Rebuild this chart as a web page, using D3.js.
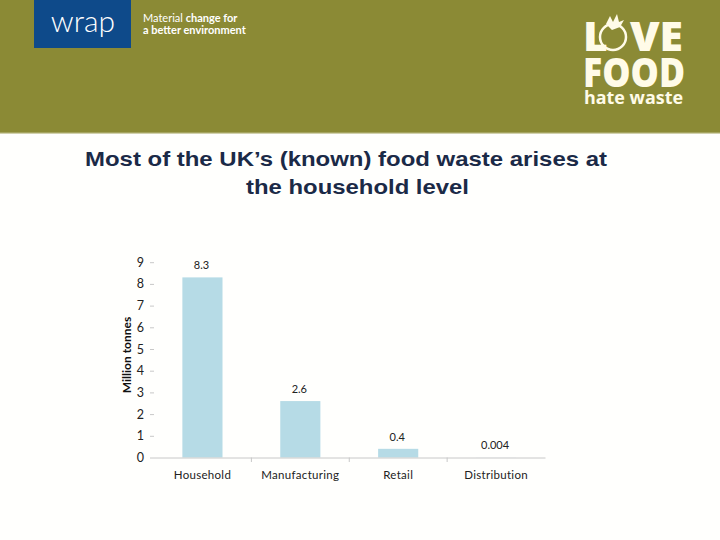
<!DOCTYPE html>
<html><head><meta charset="utf-8">
<script src="https://cdn.jsdelivr.net/npm/d3@7"></script>
<style>body{margin:0;background:#fff}svg{display:block}</style>
</head><body>
<script>
const categories = ["Household","Manufacturing","Retail","Distribution"];
const values = [8.3, 2.6, 0.4, 0.004];
const valueLabels = ["8.3","2.6","0.4","0.004"];
const yTicks = [0,1,2,3,4,5,6,7,8,9];
const titleLines = ["Most of the UK\u2019s (known) food waste arises at","the household level"];

const W=720,H=540;
const svg=d3.select("body").append("svg").attr("width",W).attr("height",H);
svg.append("rect").attr("width",W).attr("height",H).attr("fill","#fffffd");

// header
svg.append("rect").attr("x",0).attr("y",0).attr("width",W).attr("height",133).attr("fill","#8b8a35");
svg.append("rect").attr("x",0).attr("y",132).attr("width",W).attr("height",1.5).attr("fill","#a4a35e");
svg.append("rect").attr("x",34).attr("y",0).attr("width",97).attr("height",48).attr("fill","#0e4a8a");
svg.append("text").attr("x",83).attr("y",32).attr("text-anchor","middle").attr("fill","#fff")
  .style("font-family","Lato, sans-serif").style("font-weight","300").style("font-size","30px").text("wrap");
const tg=svg.append("g").style("font-family","Lato, sans-serif").style("font-size","11px").attr("fill","#fff");
tg.append("text").attr("x",143).attr("y",22).html('<tspan>Material </tspan><tspan font-weight="bold">change for</tspan>');
tg.append("text").attr("x",143).attr("y",34).attr("font-weight","bold").text("a better environment");
const lg=svg.append("g").attr("fill","#fffbe8").style("font-family","'Open Sans', sans-serif").style("font-weight","800");
lg.append("text").attr("transform","translate(583,51) scale(1,1.4)").style("font-size","29px").attr("textLength",100).attr("lengthAdjust","spacingAndGlyphs").text("L\u00a0\u00a0VE");
lg.append("circle").attr("cx",613).attr("cy",37).attr("r",13).attr("fill","none").attr("stroke","#fffbe8").attr("stroke-width",2.5);
lg.append("path").attr("d","M606,24 L610,16 L613,22 L617,14 L619,22 L624,20 L620,27 L612,30 Z");
lg.append("text").attr("transform","translate(583,87) scale(1,1.4)").style("font-size","29px").attr("textLength",102).attr("lengthAdjust","spacingAndGlyphs").text("FOOD");
lg.append("text").attr("x",584).attr("y",104).style("font-size","18px").style("font-weight","700").attr("textLength",99).attr("lengthAdjust","spacingAndGlyphs").text("hate waste");

// title
const tw=[522,223], tc=[346,357.5];
svg.append("g").selectAll("text").data(titleLines).join("text")
  .attr("x",(d,i)=>tc[i]-tw[i]/2).attr("y",(d,i)=>166+i*28)
  .attr("textLength",(d,i)=>tw[i]).attr("lengthAdjust","spacingAndGlyphs")
  .attr("fill","#1b2a47").style("font-family","'Liberation Sans', Arial, sans-serif")
  .style("font-weight","bold").style("font-size","21px").text(d=>d);

// chart
const x=d3.scaleBand().domain(categories).range([153.5,545]).paddingInner(0.59).paddingOuter(0.295);
const y=d3.scaleLinear().domain([0,9]).range([457.5,262.2]);
const font="Lato, 'Open Sans', sans-serif";

svg.append("g").selectAll("rect").data(values).join("rect")
  .attr("x",(d,i)=>x(categories[i])).attr("width",x.bandwidth())
  .attr("y",d=>y(d)).attr("height",d=>y(0)-y(d)).attr("fill","#b6dbe6");

// x axis
const xa=svg.append("g").attr("transform","translate(0,457.5)")
  .call(d3.axisBottom(x).tickSize(0).tickPadding(13));
xa.select(".domain").attr("stroke","#c8c8c8");
xa.selectAll("text").style("font-family",font).style("font-size","11.5px").attr("fill","#222").attr("letter-spacing","0.3px");
const step=x.step();
svg.append("g").selectAll("line").data(categories.slice(1)).join("line")
  .attr("x1",d=>x(d)-(step-x.bandwidth())/2).attr("x2",d=>x(d)-(step-x.bandwidth())/2)
  .attr("y1",457.5).attr("y2",462).attr("stroke","#c8c8c8");

// y axis
const ya=svg.append("g").attr("transform","translate(154,0)")
  .call(d3.axisLeft(y).tickValues(yTicks).tickFormat(d3.format("d")).tickSize(4).tickPadding(6));
ya.select(".domain").remove();
ya.selectAll("line").attr("stroke","#c8c8c8");
ya.selectAll("text").style("font-family",font).style("font-size","12.5px").attr("fill","#222");

svg.append("text").attr("transform","translate(131,355) rotate(-90)").attr("text-anchor","middle")
  .style("font-family",font).style("font-weight","bold").style("font-size","12px").attr("fill","#111").text("Million tonnes");

// value labels
svg.append("g").selectAll("text").data(values).join("text")
  .attr("x",(d,i)=>x(categories[i])+x.bandwidth()/2-1).attr("y",d=>y(d)-8)
  .attr("text-anchor","middle").style("font-family",font).style("font-size","11px").attr("fill","#222")
  .text((d,i)=>valueLabels[i]);
</script>
</body></html>
